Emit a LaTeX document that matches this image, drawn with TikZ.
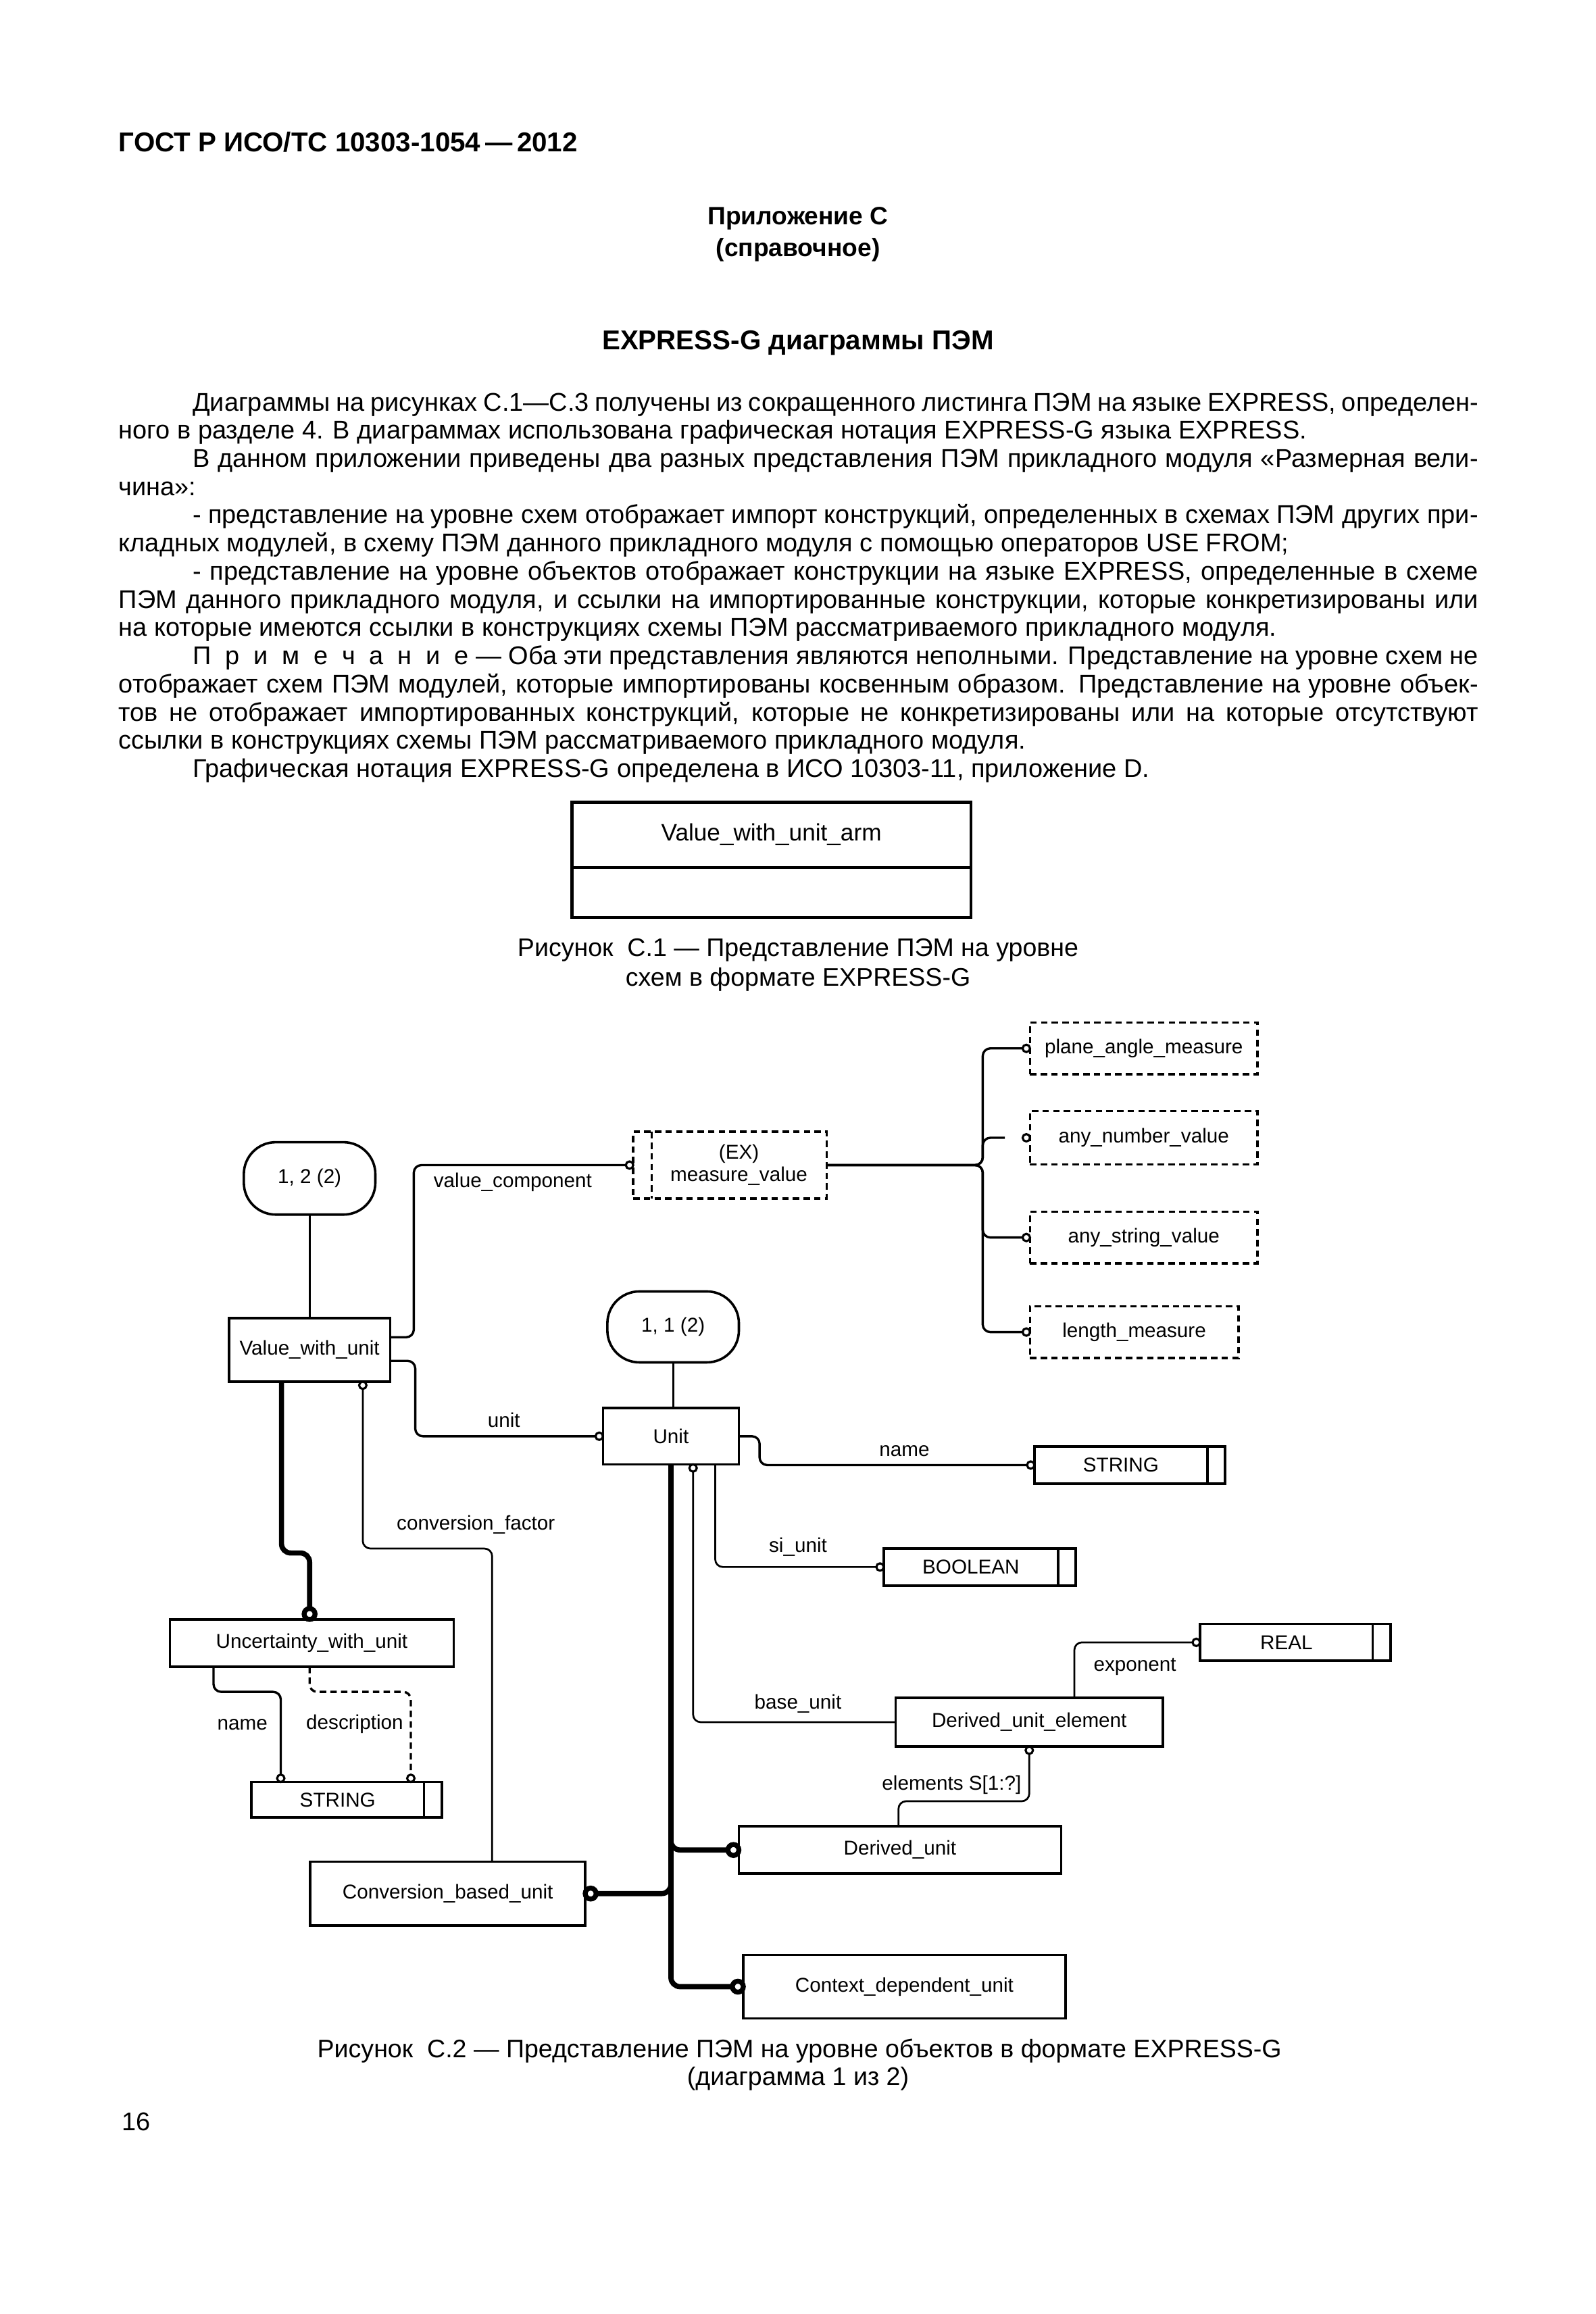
\documentclass[tikz,border=0pt]{standalone}
\usepackage{fontspec}
\setmainfont{Liberation Sans}
\usetikzlibrary{calc}
\newdimen\uu \uu=0.19444mm
\newcommand\lsp[1]{#1\kern.55em\relax}
\newcommand\ebox[7][]{\node[box,#1,minimum width={(#4-#2)*\uu},minimum height={(#5-#3)*\uu}] (#6) at ({(#2+#4)/2},{(#3+#5)/2}) {#7};}
\tikzset{
 box/.style={draw, line width=0.32mm, inner sep=0pt, outer sep=0pt, font=\fontsize{7.5}{8.4}\selectfont},
 dbox/.style={box, dash pattern=on 0.85mm off 0.55mm},
 conn/.style={line width=0.3mm, rounded corners=1mm},
 thinl/.style={line width=0.24mm},
 thickl/.style={line width=0.68mm, rounded corners=1.2mm},
 ocirc/.style={circle, draw, line width=0.28mm, fill=white, inner sep=0pt, outer sep=0pt, minimum size=5\uu},
 tcirc/.style={circle, draw, line width=0.65mm, fill=white, inner sep=0pt, outer sep=0pt, minimum size=7.4\uu},
 lbl/.style={font=\fontsize{7.5}{8.4}\selectfont, inner sep=0pt},
 ptxt/.style={font=\fontsize{9.6}{10.56}\selectfont, inner sep=0pt},
 btxt/.style={font=\fontsize{10.2}{12}\selectfont\bfseries, inner sep=0pt},
}
\begin{document}
\begin{tikzpicture}[x=\uu,y=-\uu]
\fill[white] (0,0) rectangle (1080,1566.05);
\useasboundingbox (0,0) rectangle (1080,1566.05);

% ---------- page texts ----------
\node[btxt, anchor=west] (hdr) at (80,96) {ГОСТ Р ИСО/ТС 10303-1054\,—\,2012};
\node[ptxt, font=\fontsize{9.4}{11}\selectfont\bfseries] (ann1) at (540,148) {Приложение С};
\node[ptxt, font=\fontsize{9.4}{11}\selectfont\bfseries] (ann2) at (540,169) {(справочное)};
\node[btxt] (ttl) at (540,232) {EXPRESS-G диаграммы ПЭМ};

\node[ptxt, anchor=base west] (body) at (80,278) {\parbox[t]{920\uu}{%
\setlength\parindent{50\uu}\hyphenpenalty=10000 \exhyphenpenalty=10000 \tolerance=10000
Диаграммы на рисунках С.1—С.3 получены из сокращенного листинга ПЭМ на языке EXPRESS, определен-\linebreak ного в разделе 4. В диаграммах использована графическая нотация EXPRESS-G языка EXPRESS.\par
В данном приложении приведены два разных представления ПЭМ прикладного модуля «Размерная вели-\linebreak чина»:\par
- представление на уровне схем отображает импорт конструкций, определенных в схемах ПЭМ других при-\linebreak кладных модулей, в схему ПЭМ данного прикладного модуля с помощью операторов USE FROM;\par
- представление на уровне объектов отображает конструкции на языке EXPRESS, определенные в схеме\linebreak ПЭМ данного прикладного модуля, и ссылки на импортированные конструкции, которые конкретизированы или\linebreak на которые имеются ссылки в конструкциях схемы ПЭМ рассматриваемого прикладного модуля.\par
\lsp{П}\lsp{р}\lsp{и}\lsp{м}\lsp{е}\lsp{ч}\lsp{а}\lsp{н}\lsp{и}е — Оба эти представления являются неполными. Представление на уровне схем не\linebreak отображает схем ПЭМ модулей, которые импортированы косвенным образом. Представление на уровне объек-\linebreak тов не отображает импортированных конструкций, которые не конкретизированы или на которые отсутствуют\linebreak ссылки в конструкциях схемы ПЭМ рассматриваемого прикладного модуля.\par
Графическая нотация EXPRESS-G определена в ИСО 10303-11, приложение D.}};

% ---------- Figure C.1 ----------
\ebox[line width=0.38mm]{387}{543}{657}{621}{vwua}{}
\draw[line width=0.38mm] ([yshift=-44\uu]vwua.north west) -- ([yshift=-44\uu]vwua.north east);
\node[font=\fontsize{8.9}{10}\selectfont, inner sep=0pt] (vwuat) at (522,565) {Value\_with\_unit\_arm};
\node[ptxt, font=\fontsize{9.5}{11}\selectfont] (cap1a) at (540,643) {Рисунок\ \ С.1 — Представление ПЭМ на уровне};
\node[ptxt, font=\fontsize{9.5}{11}\selectfont] (cap1b) at (540,663) {схем в формате EXPRESS-G};

% ---------- Figure C.2 : boxes ----------
\node[box, rounded corners=4.2mm, minimum width=89\uu, minimum height=49\uu] (o12) at (209.5,797.5) {1, 2 (2)};
\node[box, rounded corners=4.2mm, minimum width=89\uu, minimum height=48\uu] (o11) at (455.5,898) {1, 1 (2)};

\ebox[dbox]{428.5}{766}{559.5}{811}{mv}{}
\draw[line width=0.32mm, dash pattern=on 0.85mm off 0.55mm] ([xshift=12.5\uu]mv.north west) -- ([xshift=12.5\uu]mv.south west);
\node[lbl, align=center] (mvt) at ($(mv.center)+(6,0)$) {(EX)\\measure\_value};

\ebox[dbox]{697}{692}{851}{727}{pam}{plane\_angle\_measure}
\ebox[dbox]{697}{752}{851}{788}{anv}{any\_number\_value}
\ebox[dbox]{697}{820}{851}{855}{asv}{any\_string\_value}
\ebox[dbox]{697}{884}{838}{919}{lme}{length\_measure}

\ebox{155}{892}{264}{935}{vwu}{Value\_with\_unit}
\ebox{408}{953}{500}{991}{unit}{Unit}
\ebox{115}{1096}{307}{1128}{uwu}{Uncertainty\_with\_unit}
\ebox{170}{1206}{299}{1230}{sl}{STRING\hspace*{12\uu}}
\ebox{700}{979}{829}{1004}{sr}{STRING\hspace*{12\uu}}
\ebox{598}{1048}{728}{1073}{bo}{BOOLEAN\hspace*{12\uu}}
\ebox{812}{1099}{941}{1124}{re}{REAL\hspace*{12\uu}}
\ebox{606}{1149}{787}{1182}{due}{Derived\_unit\_element}
\ebox{500}{1236}{718}{1268}{du}{Derived\_unit}
\ebox{210}{1260}{396}{1303}{cbu}{Conversion\_based\_unit}
\ebox{503}{1323}{721}{1366}{ctx}{Context\_dependent\_unit}
\foreach \n in {sl,sr,bo,re} \draw[line width=0.3mm] ([xshift=-12\uu]\n.north east) -- ([xshift=-12\uu]\n.south east);

% ---------- circles ----------
\node[ocirc] (cvc) at ($(mv.west)+(-2.5,0)$) {};
\node[ocirc] (cpam) at ($(pam.west)+(-2.5,0)$) {};
\node[ocirc] (canv) at ($(anv.west)+(-2.5,0)$) {};
\node[ocirc] (casv) at ($(asv.west)+(-2.5,0)$) {};
\node[ocirc] (clme) at ($(lme.west)+(-2.5,0)$) {};
\node[ocirc] (cun) at ($(unit.west)+(-2.5,0)$) {};
\node[ocirc] (ccf) at ($(vwu.south)+(36,2.5)$) {};
\node[tcirc] (cuw) at ($(uwu.north)+(-1.5,-3.7)$) {};
\node[ocirc] (csn) at ($(sl.north west)+(20,-2.5)$) {};
\node[ocirc] (csd) at ($(sl.north west)+(108,-2.5)$) {};
\node[ocirc] (csr) at ($(sr.west)+(-2.5,0)$) {};
\node[ocirc] (cbo) at ($(bo.west)+(-2.5,0)$) {};
\node[ocirc] (cba) at ($(unit.south)+(15,2.5)$) {};
\node[ocirc] (cre) at ($(re.west)+(-2.5,0)$) {};
\node[ocirc] (cel) at ($(due.south)+(0,2.5)$) {};
\node[tcirc] (cdu) at ($(du.west)+(-3.7,0)$) {};
\node[tcirc] (cctx) at ($(ctx.west)+(-3.7,0)$) {};
\node[tcirc] (ccb) at ($(cbu.east)+(3.7,0)$) {};

% ---------- connectors ----------
\draw[thinl] (o12.south) -- (vwu.north);
\draw[thinl] (o11.south) -- (o11.south |- unit.north);

\draw[conn] ([yshift=-13\uu]vwu.north east) -- ++(16,0) |- (cvc.west);
\coordinate (tr) at ($(mv.east)+(105.5,0)$);
\draw[conn] (mv.east) -- (tr) |- (cpam.west);
\draw[conn] (mv.east) -- (tr) |- ([xshift=-12\uu]canv.west);
\draw[conn] (mv.east) -- (tr) |- (casv.west);
\draw[conn] (mv.east) -- (tr) |- (clme.west);

\draw[conn] ([yshift=14\uu]vwu.south east) -- ++(17,0) |- (cun.west);
\draw[thinl, rounded corners=1mm] (ccf.south) -- ++(0,108) -| ([xshift=123\uu]cbu.north west);
\draw[thickl] ([xshift=-19\uu]vwu.south) -- ++(0,116) -| (cuw.north);

\draw[conn] ([xshift=-66.5\uu]uwu.south) -- ++(0,17) -| (csn.north);
\draw[conn, dash pattern=on 0.85mm off 0.55mm] ([xshift=-1.5\uu]uwu.south) -- ++(0,17) -| (csd.north);

\draw[conn] (unit.east) -- ++(14,0) |- (csr.west);
\draw[thinl, rounded corners=1mm] ([xshift=30\uu]unit.south) |- (cbo.west);
\draw[thinl, rounded corners=1mm] (cba.south) |- (due.west);
\draw[thinl, rounded corners=1mm] ([xshift=30.5\uu]due.north) |- (cre.west);
\draw[thinl, rounded corners=1mm] ([xshift=-1\uu]du.north) -- ++(0,-17) -| (cel.south);

\draw[thickl] (unit.south) |- (cctx.west);
\draw[thickl] (unit.south) |- (cdu.west);
\draw[thickl] (ccb.east) -| (unit.south);

% ---------- labels ----------
\node[lbl] (lvc) at (347,800) {value\_component};
\node[lbl] (lun) at (341,961) {unit};
\node[lbl] (lcf) at (322,1032) {conversion\_factor};
\node[lbl] (lnm) at (612,982) {name};
\node[lbl] (lsi) at (540,1047) {si\_unit};
\node[lbl] (lex) at (768,1128) {exponent};
\node[lbl] (lbu) at (540,1153) {base\_unit};
\node[lbl] (lnm2) at (164,1167) {name};
\node[lbl] (lds) at (240,1167) {description};
\node[lbl] (lel) at (644,1208) {elements S[1:?]};

% ---------- caption ----------
\node[ptxt, font=\fontsize{9.5}{11}\selectfont] (cap2a) at (541,1388) {Рисунок\ \ С.2 — Представление ПЭМ на уровне объектов в формате EXPRESS-G};
\node[ptxt, font=\fontsize{9.5}{11}\selectfont] (cap2b) at (540,1407) {(диаграмма 1 из 2)};
\node[ptxt, anchor=west] (pg) at (82,1436) {16};
\end{tikzpicture}
\end{document}
